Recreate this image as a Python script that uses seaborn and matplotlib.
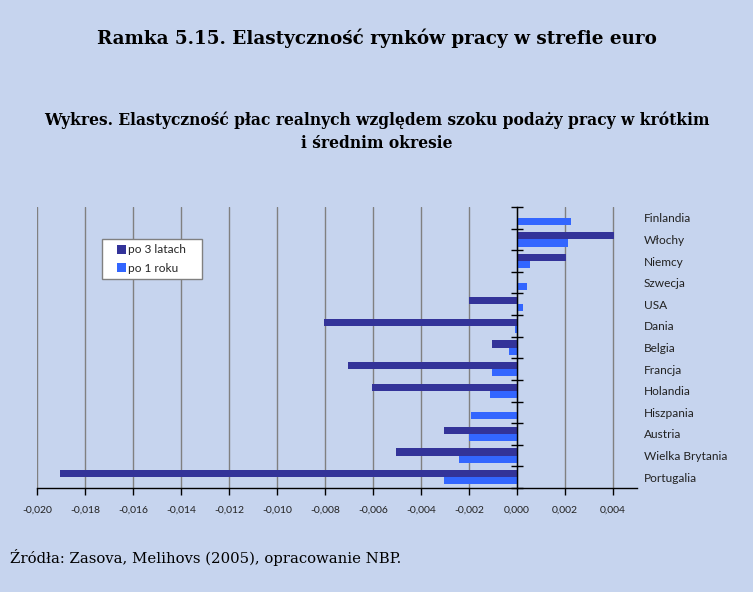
import matplotlib
matplotlib.use("Agg")
import matplotlib.pyplot as plt
from matplotlib.patches import Rectangle
from matplotlib.legend_handler import HandlerPatch
import seaborn as sns
import pandas as pd
import numpy as np

countries = ["Finlandia", "Włochy", "Niemcy", "Szwecja", "USA", "Dania", "Belgia",
             "Francja", "Holandia", "Hiszpania", "Austria", "Wielka Brytania", "Portugalia"]
po_3_latach = [0.0, 0.00406, 0.00206, 0.0, -0.00201, -0.00803, -0.00103,
               -0.00703, -0.00603, 0.0, -0.00303, -0.00503, -0.01904]
po_1_roku = [0.00225, 0.00213, 0.00056, 0.00043, 0.00025, -0.0001, -0.00032,
             -0.00103, -0.00111, -0.0019, -0.00201, -0.0024, -0.00303]
series_names = ["po 3 latach", "po 1 roku"]
xticks = [-0.020, -0.018, -0.016, -0.014, -0.012, -0.010, -0.008, -0.006,
          -0.004, -0.002, 0.000, 0.002, 0.004]

df = pd.DataFrame({
    "kraj": countries * 2,
    "wartosc": po_3_latach + po_1_roku,
    "seria": [series_names[0]] * len(countries) + [series_names[1]] * len(countries),
})

BG = "#C6D4EE"
sns.set_theme(style="white")
plt.rcParams["font.family"] = ["Lato", "DejaVu Sans"]
SERIF = ["DejaVu Serif", "Liberation Serif"]

fig = plt.figure(figsize=(7.53, 5.92), dpi=100, facecolor=BG)
ax = fig.add_axes([37 / 753, 1 - 488 / 592, 600 / 753, 281 / 592])
ax.set_facecolor(BG)

sns.barplot(data=df, y="kraj", x="wartosc", hue="seria", hue_order=series_names,
            order=countries, orient="h", palette=["#333399", "#3366FF"],
            width=0.66, saturation=1, ax=ax, legend=True, linewidth=0)

ax.set_xlim(-0.020, 0.005)
ax.set_ylim(len(countries) - 0.5, -0.5)
ax.set_xlabel("")
ax.set_ylabel("")

# x axis
ax.set_xticks(xticks)
ax.set_xticklabels([f"{v:.3f}".replace(".", ",") for v in xticks], fontsize=7.5)
ax.tick_params(axis="x", direction="out", length=5, width=1, color="black",
               pad=8, bottom=True, labelcolor="#222222")
ax.xaxis.grid(True, color="#808080", linewidth=1)
ax.yaxis.grid(False)
ax.set_axisbelow(True)

# category axis at zero
for s in ["top", "right"]:
    ax.spines[s].set_visible(False)
ax.spines["bottom"].set_color("black")
ax.spines["bottom"].set_linewidth(1)
ax.spines["left"].set_position(("data", 0))
ax.spines["left"].set_color("black")
ax.spines["left"].set_linewidth(1)
ax.spines["left"].set_zorder(5)
bounds = np.arange(len(countries) + 1) - 0.5
ax.set_yticks(bounds)
ax.set_yticklabels([])
ax.tick_params(axis="y", direction="inout", length=8, width=1, color="black", left=True)

sec = ax.secondary_yaxis("right")
sec.set_yticks(range(len(countries)))
sec.set_yticklabels(countries, fontsize=8.6, color="#222222")
sec.tick_params(length=0, pad=5)
sec.spines["right"].set_visible(False)

# legend
old = ax.get_legend()
handles = list(old.legend_handles)
labels = [t.get_text() for t in old.get_texts()]
old.remove()


def square(legend, orig_handle, xdescent, ydescent, width, height, fontsize):
    return Rectangle((-xdescent + width - height, -ydescent), height, height)


hmap = {h: HandlerPatch(patch_func=square) for h in handles}
leg = ax.legend(handles, labels, loc="upper left",
                bbox_to_anchor=(102 / 753, 1 - 278 / 592, 100 / 753, 39 / 592),
                mode="expand", bbox_transform=fig.transFigure, frameon=True,
                fancybox=False, edgecolor="#808080", facecolor="white", framealpha=1,
                fontsize=8.6, handlelength=1.56, handleheight=0.75, handletextpad=0.2,
                borderpad=0.45, labelspacing=0.6, borderaxespad=0, handler_map=hmap)
leg.get_frame().set_linewidth(1)


def fit_text(x, y, s, target_w, ha, **kw):
    t = fig.text(x, y, s, ha=ha, va="center", **kw)
    fig.canvas.draw()
    w = t.get_window_extent().width
    t.set_fontsize(t.get_fontsize() * target_w / w)
    return t


fit_text(0.5, 1 - 38 / 592, "Ramka 5.15. Elastyczność rynków pracy w strefie euro",
         558, "center", fontsize=13, fontweight="bold", family=SERIF, color="black")
fit_text(0.5, 1 - 132 / 592,
         "Wykres. Elastyczność płac realnych względem szoku podaży pracy w krótkim\ni średnim okresie",
         666, "center", fontsize=11, fontweight="bold", family=SERIF, linespacing=1.45,
         color="black")
fit_text(10 / 753, 1 - 557 / 592, "Źródła: Zasova, Melihovs (2005), opracowanie NBP.",
         388, "left", fontsize=11, family=SERIF, color="black")

fig.savefig("out.png", dpi=100, facecolor=BG)
